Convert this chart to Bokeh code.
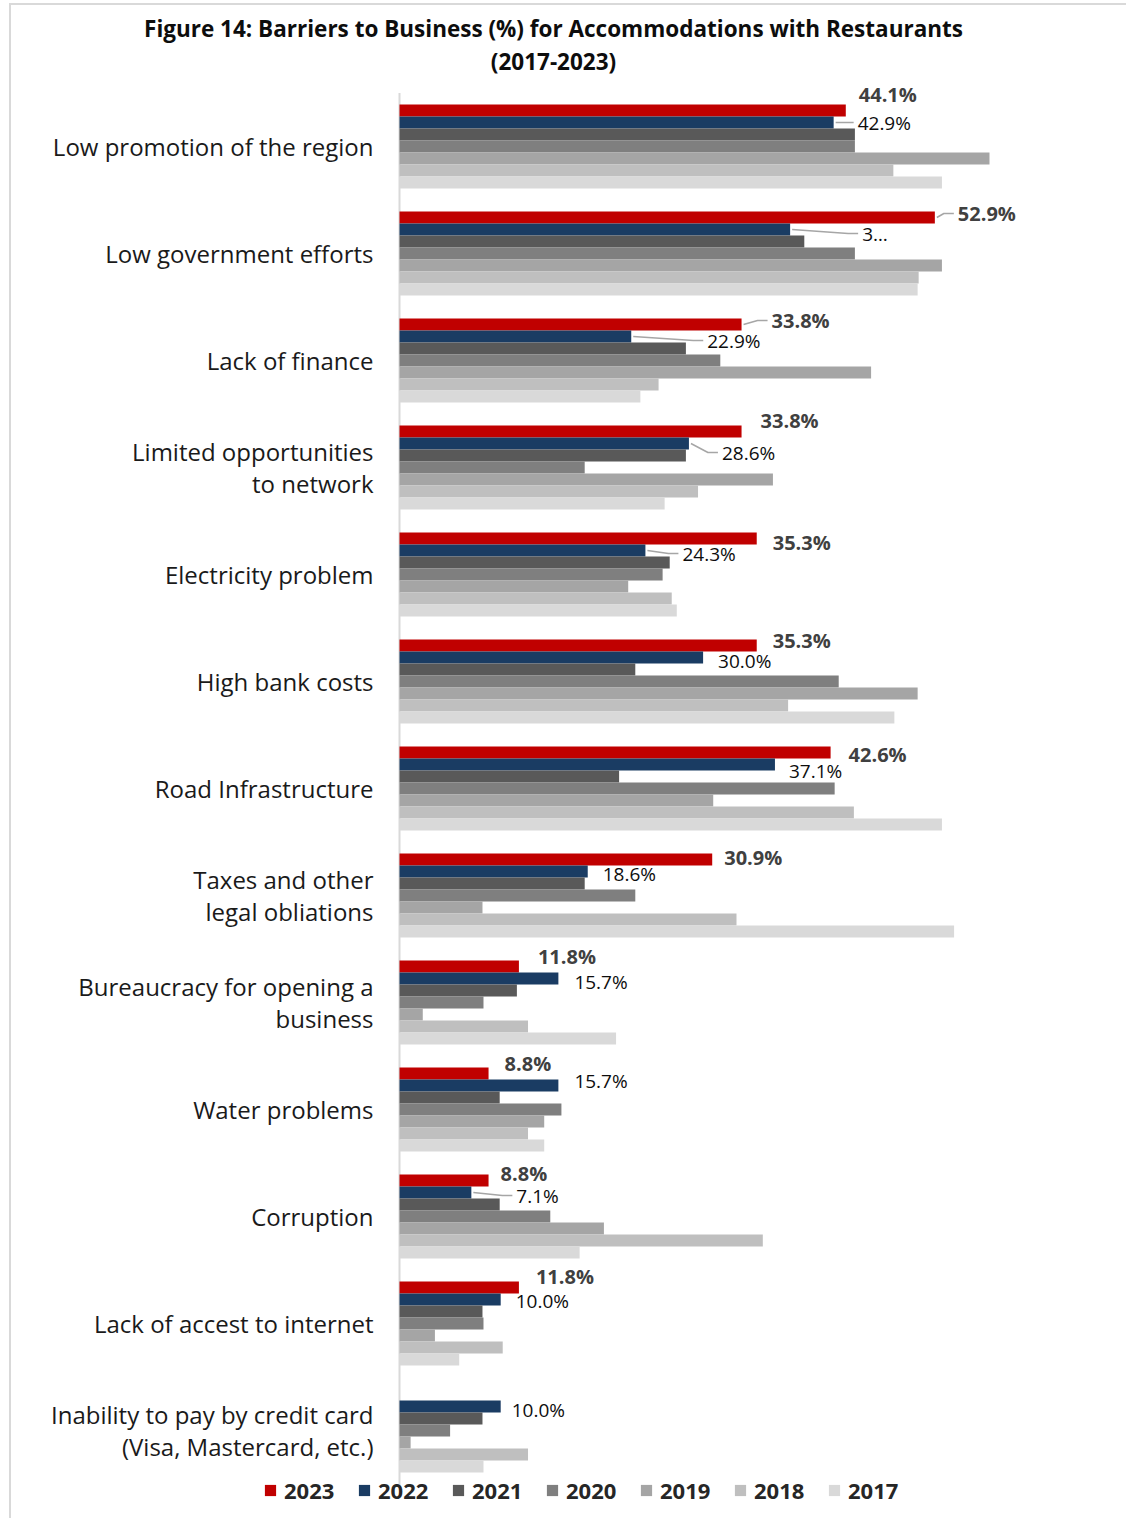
import math
from bokeh.plotting import figure
from bokeh.models import ColumnDataSource, Range1d, Legend, LegendItem
from bokeh.core.properties import value
from bokeh.embed import file_html
from bokeh.resources import INLINE

# ---------------- data ----------------
categories = [
    "Low promotion of the region",
    "Low government efforts",
    "Lack of finance",
    "Limited opportunities\nto network",
    "Electricity problem",
    "High bank costs",
    "Road Infrastructure",
    "Taxes and other\nlegal obliations",
    "Bureaucracy for opening a\nbusiness",
    "Water problems",
    "Corruption",
    "Lack of accest to internet",
    "Inability to pay by credit card\n(Visa, Mastercard, etc.)",
]
years = ["2023", "2022", "2021", "2020", "2019", "2018", "2017"]

v2023 = [44.1, 52.9, 33.8, 33.8, 35.3, 35.3, 42.6, 30.9, 11.8, 8.8, 8.8, 11.8, float("nan")]
v2022 = [42.9, 38.6, 22.9, 28.6, 24.3, 30.0, 37.1, 18.6, 15.7, 15.7, 7.1, 10.0, 10.0]
v2021 = [45.0, 40.0, 28.3, 28.3, 26.7, 23.3, 21.7, 18.3, 11.6, 9.9, 9.9, 8.2, 8.2]
v2020 = [45.0, 45.0, 31.7, 18.3, 26.0, 43.4, 43.0, 23.3, 8.3, 16.0, 14.9, 8.3, 5.0]
v2019 = [58.3, 53.6, 46.6, 36.9, 22.6, 51.2, 31.0, 8.2, 2.3, 14.3, 20.2, 3.5, 1.1]
v2018 = [48.8, 51.3, 25.6, 29.5, 26.9, 38.4, 44.9, 33.3, 12.7, 12.7, 35.9, 10.2, 12.7]
v2017 = [53.6, 51.2, 23.8, 26.2, 27.4, 48.9, 53.6, 54.8, 21.4, 14.3, 17.8, 5.9, 8.3]
series = [v2023, v2022, v2021, v2020, v2019, v2018, v2017]

# the 2022 label of "Low government efforts" is shown truncated in the source
label2022_override = {1: "3\u2026"}

title1 = "Figure 14: Barriers to Business (%) for Accommodations with Restaurants"
title2 = "(2017-2023)"

# ---------------- styles / layout ----------------
colors = ["#C00000", "#1A3C63", "#595959", "#7F7F7F", "#A5A5A5", "#BFBFBF", "#D9D9D9"]
FONT = "Open Sans"

# pixel offsets of data labels from the bar end / bar centre
dx2023 = [13, 23, 30, 19, 16, 16, 18, 12, 19, 16, 12, 17, 0]
dy2023 = [-16, -4, -4, -11, 4, -5, 2, -2, -10, -10, -7, -11, 0]
lead2023 = [False, True, True, False, False, False, False, False, False, False, False, False, False]
dx2022 = [24, 72, 76, 33, 37, 15, 14, 15, 16, 16, 45, 15, 11]
dy2022 = [0, 4, 4, 9, 3, 3, 6, 2, 3, -5, 3, 1, 3]
lead2022 = [True, True, True, True, True, False, False, False, False, False, True, False, False]

# page geometry (pixels)
OX, OY = 11, 5            # canvas origin on the page
FIG_W, FIG_H = 1117, 1515
AX_X = 399                # page x of the value axis (0 %)
PX_X = 10.12              # pixels per percentage point
CAT0_Y = 146              # page y of first category centre
PX_Y = 107                # pixels between categories
BAR_PX = 12               # bar thickness

n = len(categories)
BAR_H = BAR_PX / PX_Y


def px2x(px):
    return (px - AX_X) / PX_X


def px2y(py):
    return (py - CAT0_Y) / PX_Y


p = figure(
    width=FIG_W, height=FIG_H,
    x_range=Range1d(px2x(OX), px2x(OX + FIG_W)),
    y_range=Range1d(px2y(OY + FIG_H), px2y(OY)),
    output_backend="svg", toolbar_location=None,
    x_axis_location=None, y_axis_location=None,
    min_border_left=0, min_border_right=0, min_border_top=0, min_border_bottom=0,
)
p.outline_line_color = None
p.xgrid.visible = False
p.ygrid.visible = False
p.background_fill_color = "white"
p.border_fill_color = "white"
p.styles = {"border-left": "2px solid #D9D9D9", "border-top": "2px solid #D9D9D9",
            "margin-left": "9px", "margin-top": "3px"}

# value axis line (category axis)
p.segment(x0=0, y0=-0.5, x1=0, y1=n - 0.5 + 0.03, line_color="#D9D9D9", line_width=2)

# category labels
p.text(x=[0] * n, y=list(range(n)), text=categories, x_offset=-26,
       text_font=value(FONT), text_font_size="24px", text_color="#1A1A1A",
       text_align="right", text_baseline="middle", text_line_height=0.98)

renderers = []
for j, (yr, vals) in enumerate(zip(years, series)):
    ys = [i + (j - 3) * BAR_H for i in range(n)]
    src = ColumnDataSource(dict(y=ys, right=vals))
    r = p.hbar(y="y", left=0, right="right", height=BAR_H, color=colors[j], line_color=None, source=src)
    renderers.append(r)


def add_labels(vals, j, dxs, dys, leads, texts, bold, size, color):
    xs, ys, tx, ox, oy = [], [], [], [], []
    lx, ly = [], []
    for i, v in enumerate(vals):
        if v is None or (isinstance(v, float) and math.isnan(v)):
            continue
        yc = i + (j - 3) * BAR_H
        xs.append(v); ys.append(yc); tx.append(texts[i]); ox.append(dxs[i]); oy.append(dys[i])
        if leads[i]:
            ty = yc + dys[i] / PX_Y
            lx.append([v + 2 / PX_X, v + (dxs[i] - 14) / PX_X, v + (dxs[i] - 4) / PX_X])
            ly.append([yc, ty, ty])
    src = ColumnDataSource(dict(x=xs, y=ys, text=tx, ox=ox, oy=oy))
    if lx:
        p.multi_line(xs=lx, ys=ly, line_color="#A6A6A6", line_width=1.5)
    p.text(x="x", y="y", text="text", x_offset="ox", y_offset="oy", source=src,
           text_font=value(FONT), text_font_style="bold" if bold else "normal",
           text_font_size=size, text_color=color, text_align="left", text_baseline="middle")


t2023 = [f"{v:.1f}%" if not math.isnan(v) else "" for v in v2023]
t2022 = [label2022_override.get(i, f"{v:.1f}%") for i, v in enumerate(v2022)]
add_labels(v2023, 0, dx2023, dy2023, lead2023, t2023, True, "20px", "#404040")
add_labels(v2022, 1, dx2022, dy2022, lead2022, t2022, False, "19px", "#0D0D0D")

# title (two centred lines)
p.text(x=[px2x(553)] * 2, y=[px2y(28), px2y(61)], text=[title1, title2],
       text_font=value(FONT), text_font_style="bold", text_font_size="22.5px",
       text_color="#0D0D0D", text_align="center", text_baseline="middle")

legend = Legend(
    items=[LegendItem(label=yr, renderers=[r]) for yr, r in zip(years, renderers)],
    location=(263 - OX, (OY + FIG_H) - 1505), orientation="horizontal",
    glyph_width=14, glyph_height=14, label_standoff=7, label_width=62, spacing=11,
    padding=0, margin=0, border_line_alpha=0, background_fill_alpha=0,
    label_text_font=FONT, label_text_font_style="bold", label_text_font_size="22px",
    label_text_color="#262626",
)
p.add_layout(legend)

open("out.html", "w").write(file_html(p, INLINE))
